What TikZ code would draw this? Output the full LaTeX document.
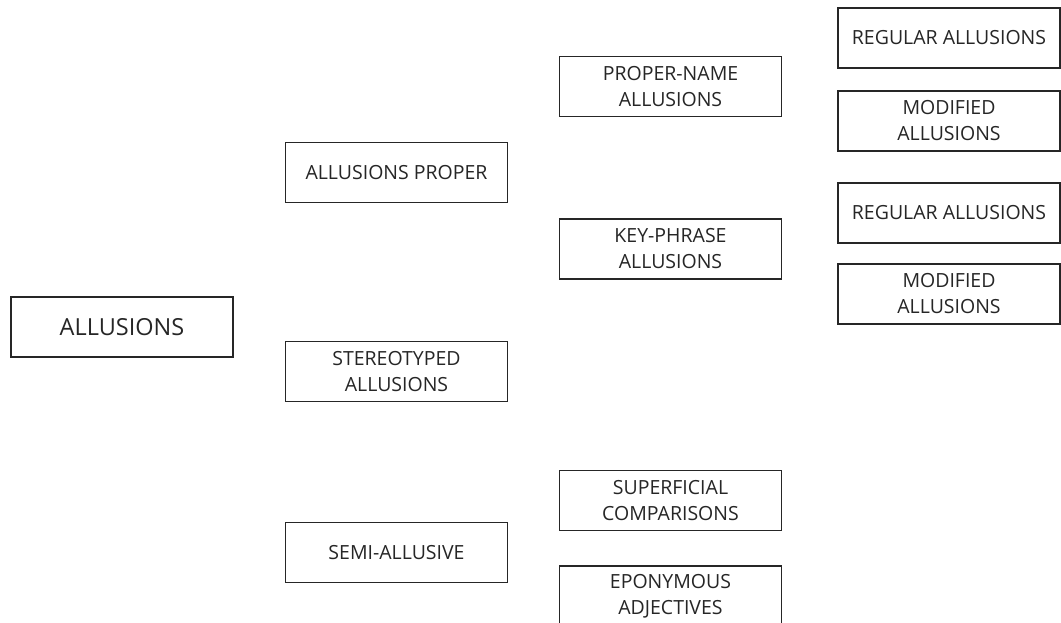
\documentclass[tikz,border=0pt]{standalone}
\usepackage{fontspec}
\setmainfont{Open Sans}
\usepackage{tikz}
\usetikzlibrary{positioning}

\begin{document}
\begin{tikzpicture}[
x=1pt, y=-1pt,
catbox/.style={rectangle,
  draw=black!85,
  line width=1.8pt,
  fill=white,
  text=black!85,
  minimum width=222pt,
  minimum height=60pt,
  align=center,
  font=\fontsize{19.5}{26}\selectfont
},
]
\useasboundingbox (0,0) rectangle (1061,623);

\node[catbox, font=\fontsize{23.5}{30}\selectfont] (allusions) at (122,327)
    {ALLUSIONS};

\node[catbox] (proper) at (396.5,172.5)
    {ALLUSIONS PROPER};
\node[catbox] (stereo) at (396.5,371.5)
    {STEREOTYPED\\ALLUSIONS};
\node[catbox] (semi) at (396.5,552.5)
    {SEMI-ALLUSIVE};

\node[catbox] (propername) at (670.5,86.5)
    {PROPER-NAME\\ALLUSIONS};
\node[catbox] (keyphrase) at (670.5,249)
    {KEY-PHRASE\\ALLUSIONS};
\node[catbox] (superficial) at (670.5,500.5)
    {SUPERFICIAL\\COMPARISONS};
\node[catbox, below=34pt of superficial] (eponymous)
    {EPONYMOUS\\ADJECTIVES};

\node[catbox] (regulara) at (949,38)
    {REGULAR ALLUSIONS};
\node[catbox, below=21pt of regulara] (modifieda)
    {MODIFIED\\ALLUSIONS};
\node[catbox] (regularb) at (949,213)
    {REGULAR ALLUSIONS};
\node[catbox, below=19pt of regularb] (modifiedb)
    {MODIFIED\\ALLUSIONS};
\end{tikzpicture}
\end{document}
